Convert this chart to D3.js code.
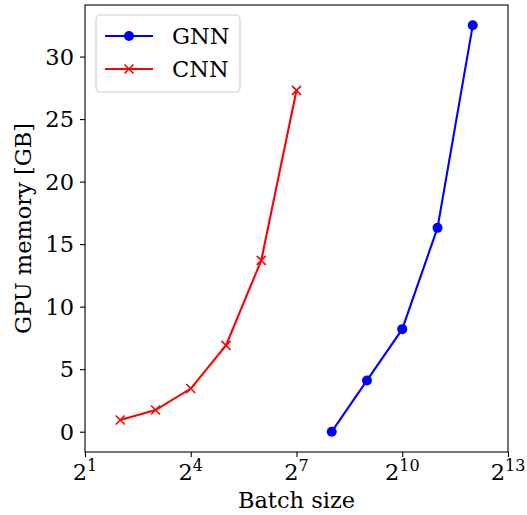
<!DOCTYPE html>
<html><head><meta charset="utf-8">
<script src="https://cdn.jsdelivr.net/npm/d3@7"></script>
<style>body{margin:0;background:#fff}text{font-family:"DejaVu Serif",serif}</style>
</head><body><svg id="c" width="527" height="515"></svg>
<script>
const gnnX = [256, 512, 1024, 2048, 4096];
const gnnY = [0.0, 4.1, 8.2, 16.3, 32.5];
const cnnX = [4, 8, 16, 32, 64, 128];
const cnnY = [0.93, 1.73, 3.45, 6.9, 13.7, 27.3];
const xTickExps = [1, 4, 7, 10, 13];
const yTicks = [0, 5, 10, 15, 20, 25, 30];
const seriesNames = ["GNN", "CNN"];

const FS = 22.5;
const svg = d3.select("#c");
const L = 85, R = 508, T = 5, B = 452;
const x = d3.scaleLog().base(2).domain([2, 8192]).range([L, R]);
const y = d3.scaleLinear().domain([-1.625, 34.125]).range([B, T]);

// axes
const xa = svg.append("g").attr("transform", `translate(0,${B})`)
  .call(d3.axisBottom(x).tickValues(xTickExps.map(e => Math.pow(2, e))).tickSize(5).tickFormat(""));
const ya = svg.append("g").attr("transform", `translate(${L},0)`)
  .call(d3.axisLeft(y).tickValues(yTicks).tickSize(5).tickFormat(""));
[xa, ya].forEach(a => { a.select(".domain").remove(); a.selectAll("line").attr("stroke", "#000").attr("stroke-width", 1.1); });

// spines
svg.append("rect").attr("x", L).attr("y", T).attr("width", R - L).attr("height", B - T)
  .attr("fill", "none").attr("stroke", "#000").attr("stroke-width", 1.1);

// y tick labels
svg.append("g").selectAll("text").data(yTicks).join("text")
  .attr("x", L - 11).attr("y", d => y(d)).attr("dy", "0.36em")
  .attr("text-anchor", "end").attr("font-size", FS).text(d => d);

// x tick labels
const xl = svg.append("g").selectAll("text").data(xTickExps).join("text")
  .attr("x", d => x(Math.pow(2, d))).attr("y", 480).attr("font-size", FS).attr("text-anchor", "middle");
xl.append("tspan").text("2");
xl.append("tspan").attr("font-size", 16).attr("dy", -9).text(d => d);

// axis labels
svg.append("text").attr("x", (L + R) / 2).attr("y", 508).attr("text-anchor", "middle")
  .attr("font-size", FS).text("Batch size");
svg.append("text").attr("transform", `translate(31,${(T + B) / 2}) rotate(-90)`)
  .attr("text-anchor", "middle").attr("font-size", FS).text("GPU memory [GB]");

const line = d3.line().x(d => x(d[0])).y(d => y(d[1]));
const gnn = gnnX.map((v, i) => [v, gnnY[i]]);
const cnn = cnnX.map((v, i) => [v, cnnY[i]]);

svg.append("path").datum(cnn).attr("d", line).attr("fill", "none").attr("stroke", "red").attr("stroke-width", 2.1);
svg.append("path").datum(gnn).attr("d", line).attr("fill", "none").attr("stroke", "blue").attr("stroke-width", 2.1);

function xMark(g, cx, cy, s) {
  g.append("path").attr("d", `M${cx - s},${cy - s}L${cx + s},${cy + s}M${cx - s},${cy + s}L${cx + s},${cy - s}`)
    .attr("stroke", "red").attr("stroke-width", 1.6).attr("fill", "none");
}
const cm = svg.append("g");
cnn.forEach(d => xMark(cm, x(d[0]), y(d[1]), 4.5));
svg.append("g").selectAll("circle").data(gnn).join("circle")
  .attr("cx", d => x(d[0])).attr("cy", d => y(d[1])).attr("r", 5).attr("fill", "blue");

// legend
const lg = svg.append("g");
lg.append("rect").attr("x", 96).attr("y", 15).attr("width", 144).attr("height", 77).attr("rx", 4)
  .attr("fill", "#fff").attr("fill-opacity", 0.8).attr("stroke", "#ccc").attr("stroke-width", 1.1);
const ly = [36, 69];
lg.append("line").attr("x1", 105).attr("x2", 153).attr("y1", ly[0]).attr("y2", ly[0]).attr("stroke", "blue").attr("stroke-width", 2.1);
lg.append("circle").attr("cx", 129).attr("cy", ly[0]).attr("r", 5).attr("fill", "blue");
lg.append("line").attr("x1", 105).attr("x2", 153).attr("y1", ly[1]).attr("y2", ly[1]).attr("stroke", "red").attr("stroke-width", 2.1);
xMark(lg, 129, ly[1], 4.5);
lg.selectAll("text.l").data(seriesNames).join("text").attr("class", "l")
  .attr("x", 172).attr("y", (d, i) => ly[i]).attr("dy", "0.36em").attr("font-size", FS).text(d => d);
</script></body></html>
